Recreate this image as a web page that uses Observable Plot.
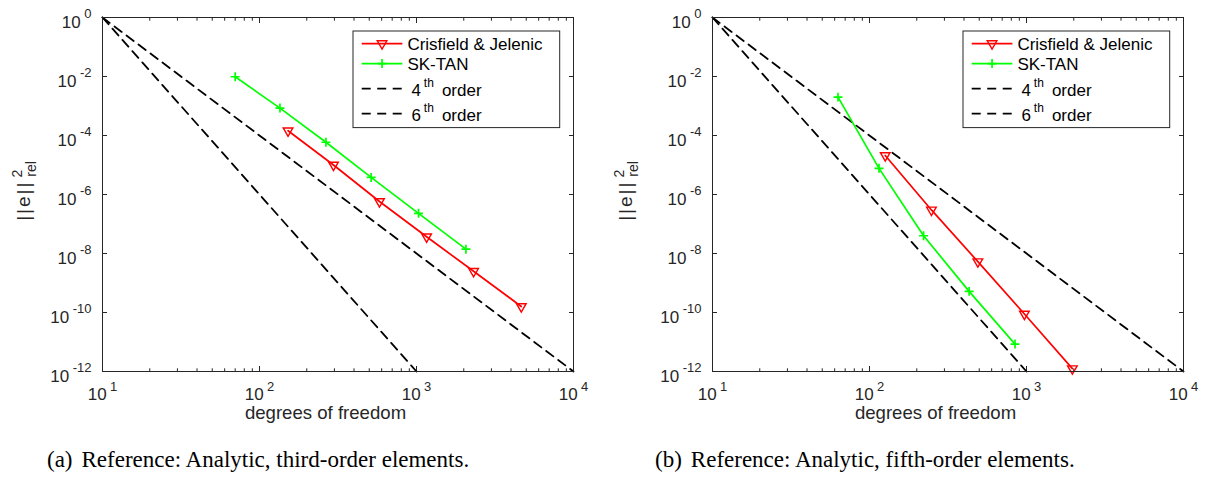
<!DOCTYPE html>
<html>
<head>
<meta charset="utf-8">
<script src="https://cdn.jsdelivr.net/npm/d3@7"></script>
<script src="https://cdn.jsdelivr.net/npm/@observablehq/plot@0.6"></script>
<style>
  body { margin: 0; background: #fff; }
  #row { display: flex; width: 1205px; height: 479px; }
  .panel { position: relative; height: 479px; }
  .panel svg { display: block; overflow: visible; }
  .cap { position: absolute; top: 446px; font-family: "Liberation Serif", "Times New Roman", serif;
         font-size: 23px; line-height: 28px; color: #000; white-space: pre; }
  .cap .tag { margin-right: 9px; }
</style>
</head>
<body>
<div id="row"></div>
<script>
// Axis ticks (log10 decades)
const xTicksMajor = [10, 100, 1000, 10000];
const yTicksMajor = [1, 1e-2, 1e-4, 1e-6, 1e-8, 1e-10, 1e-12];

// (a) third-order elements
const dofA_CJ = [152, 296, 581, 1160, 2310, 4650];
const errA_CJ = [1.45e-4, 1.0e-5, 5.8e-7, 3.7e-8, 2.5e-9, 1.6e-10];
const dofA_SK = [70, 135, 265, 514, 1030, 2065];
const errA_SK = [9.8e-3, 8.5e-4, 5.9e-5, 3.8e-6, 2.3e-7, 1.4e-8];

// (b) fifth-order elements
const dofB_CJ = [126, 248, 490, 970, 1960];
const errB_CJ = [2.1e-5, 3.0e-7, 5.3e-9, 8.9e-11, 1.25e-12];
const dofB_SK = [63, 115, 221, 431, 845];
const errB_SK = [2.0e-3, 7.7e-6, 4.0e-8, 5.2e-10, 8.5e-12];

// Reference convergence slopes, anchored at (10, 1)
const order4Dof = [10, 10000];
const order4Err = [1, 1e-12];
const order6Dof = [10, 1000];
const order6Err = [1, 1e-12];

const seriesNames = ["Crisfield & Jelenic", "SK-TAN"];
const orderNames = [["4", "th", "order"], ["6", "th", "order"]];
const xLabel = "degrees of freedom";
const captionTags = ["(a)", "(b)"];
const captionTexts = ["Reference: Analytic, third-order elements.", "Reference: Analytic, fifth-order elements."];

const RED = "#ff0000", GREEN = "#00ff00", INK = "#262626";
const FONT = "'Liberation Sans', Arial, Helvetica, sans-serif";

const zip = (xs, ys) => xs.map((x, i) => ({x, y: ys[i]}));

const xTicksMinor = [];
for (const d of xTicksMajor.slice(0, -1)) for (let m = 2; m < 10; m++) xTicksMinor.push(d * m);

const expLabel = d => `10^${Math.round(Math.log10(d))}`;

// rewrite "10^k" tick texts as base + raised exponent
function superscriptTicks(svg, selector) {
  svg.querySelectorAll(selector).forEach(el => {
    const s = el.textContent;
    if (!s.includes("^")) return;
    const [base, exp] = s.split("^");
    const t = d3.select(el).style("font-size", "17px");
    t.text(null);
    t.append("tspan").text(base);
    t.append("tspan").attr("dx", 3.5).attr("dy", -9.5).style("font-size", "13px").text(exp);
  });
}

function panel({cj, sk, width, marginLeft, marginRight, tag, text, capLeft}) {
  const tickAxes = (anchorX, anchorY) => [
    Plot.axisX(xTicksMajor, {anchor: anchorX, tickSize: -5, tickFormat: () => "", label: null, stroke: INK}),
    Plot.axisX(xTicksMinor, {anchor: anchorX, tickSize: -2.7, tickFormat: () => "", label: null, stroke: INK}),
    Plot.axisY(yTicksMajor, {anchor: anchorY, tickSize: -5, tickFormat: () => "", label: null, stroke: INK})
  ];
  const svg = Plot.plot({
    width, height: 430,
    marginTop: 17, marginBottom: 59, marginLeft, marginRight,
    style: {fontFamily: FONT, fontSize: "16px", color: INK, background: "#fff"},
    x: {type: "log", domain: [10, 1e4]},
    y: {type: "log", domain: [1e-12, 1]},
    marks: [
      ...tickAxes("bottom", "left"),
      ...tickAxes("top", "right"),
      Plot.axisX(xTicksMajor, {anchor: "bottom", tickSize: 0, tickPadding: 16.8, tickFormat: expLabel, label: null, fill: INK}),
      Plot.axisY(yTicksMajor, {anchor: "left", tickSize: 0, tickPadding: 11, dy: 5, tickFormat: expLabel, label: null, fill: INK}),
      Plot.line(zip(order4Dof, order4Err), {x: "x", y: "y", stroke: "#000", strokeWidth: 1.8, strokeDasharray: "9,6"}),
      Plot.line(zip(order6Dof, order6Err), {x: "x", y: "y", stroke: "#000", strokeWidth: 1.8, strokeDasharray: "9,6"}),
      Plot.line(cj, {x: "x", y: "y", stroke: RED, strokeWidth: 1.7}),
      Plot.dot(cj, {x: "x", y: "y", symbol: "triangle2", rotate: 180, r: 4.6, stroke: RED, strokeWidth: 1.4, fill: "none"}),
      Plot.line(sk, {x: "x", y: "y", stroke: GREEN, strokeWidth: 1.7}),
      Plot.dot(sk, {x: "x", y: "y", symbol: "plus", r: 3, stroke: GREEN, strokeWidth: 1.7}),
      Plot.frame({stroke: INK, strokeWidth: 1})
    ]
  });

  superscriptTicks(svg, 'g[aria-label="x-axis tick label"] text');
  superscriptTicks(svg, 'g[aria-label="y-axis tick label"] text');

  const [x0, x1] = svg.scale("x").range;
  const [y0, y1] = svg.scale("y").range; // y0 bottom, y1 top
  const root = d3.select(svg);

  // x label
  root.append("text")
    .attr("x", (x0 + x1) / 2 - 12).attr("y", 419)
    .attr("text-anchor", "middle").style("font-size", "18.6px").attr("fill", INK)
    .text(xLabel);

  // y label: ||e||^2_rel
  const yl = root.append("text")
    .attr("transform", `translate(30,${(y0 + y1) / 2 - 3}) rotate(-90)`)
    .attr("text-anchor", "middle").style("font-size", "19px").attr("fill", INK);
  yl.append("tspan").attr("letter-spacing", 2).text("||e||");
  yl.append("tspan").attr("dx", 3).attr("dy", -8).style("font-size", "14px").text("2");
  yl.append("tspan").attr("dx", -7).attr("dy", 14).style("font-size", "14px").text("rel");

  // legend
  const bx = x1 - 220, by = y1 + 14, bw = 206.7, bh = 96.6;
  const lg = root.append("g").style("font-size", "17px").attr("fill", "#000").attr("text-anchor", "start");
  lg.append("rect").attr("x", bx).attr("y", by).attr("width", bw).attr("height", bh)
    .attr("fill", "#fff").attr("stroke", INK).attr("stroke-width", 1);
  const rows = [12.6, 32.6, 57.6, 82.6];
  const sx0 = bx + 8.7, sx1 = bx + 49.4, sxm = (sx0 + sx1) / 2;
  const tri = d3.symbol(d3.symbolTriangle2, Math.PI * 4.6 * 4.6)();
  const plus = d3.symbol(d3.symbolPlus, Math.PI * 3 * 3)();
  // Crisfield & Jelenic
  lg.append("line").attr("x1", sx0).attr("x2", sx1).attr("y1", by + rows[0]).attr("y2", by + rows[0])
    .attr("stroke", RED).attr("stroke-width", 1.7);
  lg.append("path").attr("d", tri).attr("transform", `translate(${sxm},${by + rows[0]}) rotate(180)`)
    .attr("fill", "none").attr("stroke", RED).attr("stroke-width", 1.4);
  lg.append("text").attr("x", bx + 54.4).attr("y", by + rows[0] + 6.3).text(seriesNames[0]);
  // SK-TAN
  lg.append("line").attr("x1", sx0).attr("x2", sx1).attr("y1", by + rows[1]).attr("y2", by + rows[1])
    .attr("stroke", GREEN).attr("stroke-width", 1.7);
  lg.append("path").attr("d", plus).attr("transform", `translate(${sxm},${by + rows[1]})`)
    .attr("fill", "none").attr("stroke", GREEN).attr("stroke-width", 1.7);
  lg.append("text").attr("x", bx + 54.4).attr("y", by + rows[1] + 6.3).text(seriesNames[1]);
  // reference orders
  orderNames.forEach(([n, sup, rest], i) => {
    const ry = by + rows[2 + i];
    lg.append("line").attr("x1", sx0).attr("x2", sx1).attr("y1", ry).attr("y2", ry)
      .attr("stroke", "#000").attr("stroke-width", 1.8).attr("stroke-dasharray", "9,6.5");
    const t = lg.append("text").attr("x", bx + 58.4).attr("y", ry + 7.5);
    t.append("tspan").text(n);
    t.append("tspan").attr("dx", 3).attr("dy", -9).style("font-size", "12px").text(sup);
    t.append("tspan").attr("dx", 8).attr("dy", 9).text(rest);
  });

  const div = document.createElement("div");
  div.className = "panel";
  div.style.width = width + "px";
  div.appendChild(svg);
  const cap = document.createElement("div");
  cap.className = "cap";
  cap.style.left = capLeft + "px";
  cap.innerHTML = `<span class="tag"></span><span class="txt"></span>`;
  cap.querySelector(".tag").textContent = tag;
  cap.querySelector(".txt").textContent = text;
  div.appendChild(cap);
  return div;
}

const row = document.getElementById("row");
row.appendChild(panel({
  cj: zip(dofA_CJ, errA_CJ), sk: zip(dofA_SK, errA_SK),
  width: 602, marginLeft: 102, marginRight: 29,
  tag: captionTags[0], text: captionTexts[0], capLeft: 47
}));
row.appendChild(panel({
  cj: zip(dofB_CJ, errB_CJ), sk: zip(dofB_SK, errB_SK),
  width: 603, marginLeft: 110, marginRight: 22,
  tag: captionTags[1], text: captionTexts[1], capLeft: 53
}));
</script>
</body>
</html>
